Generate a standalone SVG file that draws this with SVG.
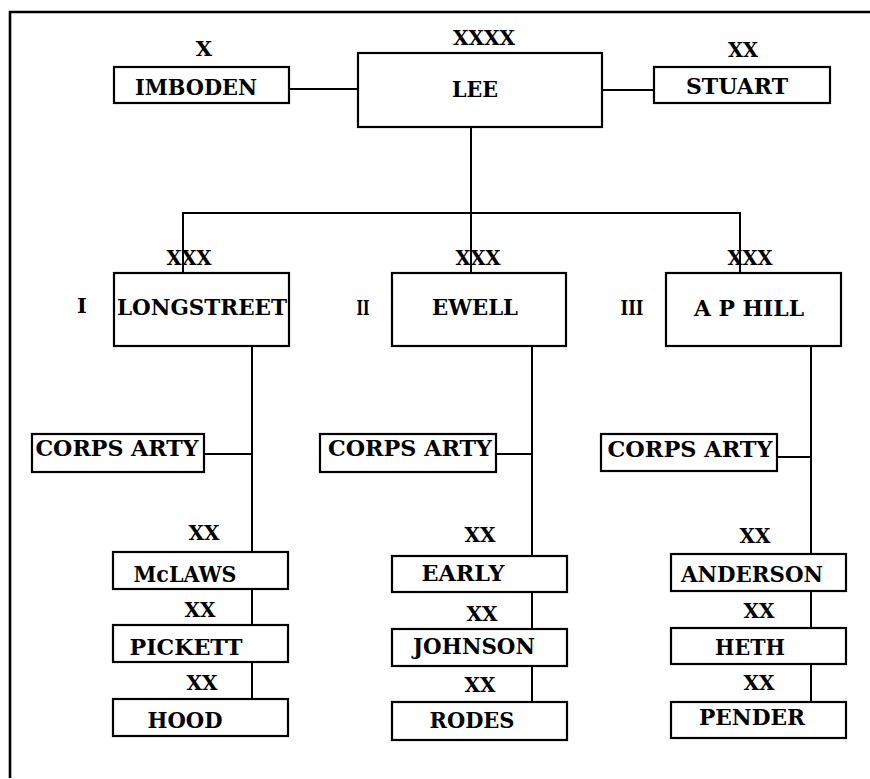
<svg xmlns="http://www.w3.org/2000/svg" width="870" height="779" viewBox="0 0 870 779">
<style>
  .box { fill: #ffffff; stroke: #000000; stroke-width: 2.2; }
  .t { font-family: "DejaVu Serif", "Liberation Serif", serif; font-weight: bold; font-size: 22px; fill: #000000; text-anchor: middle; }
  .lbl { font-family: "DejaVu Serif", "Liberation Serif", serif; font-weight: bold; font-size: 21px; fill: #000000; text-anchor: middle; }
  .ln { stroke: #000000; stroke-width: 2; fill: none; }
  .frame { stroke: #000000; stroke-width: 2.6; fill: none; }
</style>
<rect x="0" y="0" width="870" height="779" fill="#ffffff"/>
<path class="frame" d="M10,778 V12 H870"/>

<g id="nodes">
  <g id="imboden">
    <text class="lbl" x="204" y="56">X</text>
    <rect class="box" x="114" y="67" width="175" height="36"/>
    <text class="t" x="196" y="95" textLength="122" lengthAdjust="spacingAndGlyphs">IMBODEN</text>
  </g>
  <g id="lee">
    <text class="lbl" x="484" y="45" textLength="62" lengthAdjust="spacingAndGlyphs">XXXX</text>
    <rect class="box" x="358" y="53" width="244" height="74"/>
    <text class="t" x="475" y="97" textLength="46" lengthAdjust="spacingAndGlyphs">LEE</text>
  </g>
  <g id="stuart">
    <text class="lbl" x="743" y="57" textLength="30" lengthAdjust="spacingAndGlyphs">XX</text>
    <rect class="box" x="654" y="67" width="176" height="36"/>
    <text class="t" x="737" y="94" textLength="102" lengthAdjust="spacingAndGlyphs">STUART</text>
  </g>
  <g id="longstreet">
    <text class="lbl" x="189" y="265" textLength="45" lengthAdjust="spacingAndGlyphs">XXX</text>
    <text class="lbl" x="82" y="313">I</text>
    <rect class="box" x="114" y="273" width="175" height="73"/>
    <text class="t" x="202" y="315" textLength="170" lengthAdjust="spacingAndGlyphs">LONGSTREET</text>
  </g>
  <g id="ewell">
    <text class="lbl" x="478" y="265" textLength="45" lengthAdjust="spacingAndGlyphs">XXX</text>
    <text class="lbl" x="363" y="315" textLength="13" lengthAdjust="spacingAndGlyphs">II</text>
    <rect class="box" x="392" y="273" width="174" height="73"/>
    <text class="t" x="475" y="315" textLength="86" lengthAdjust="spacingAndGlyphs">EWELL</text>
  </g>
  <g id="aphill">
    <text class="lbl" x="750" y="265" textLength="45" lengthAdjust="spacingAndGlyphs">XXX</text>
    <text class="lbl" x="632" y="315" textLength="23" lengthAdjust="spacingAndGlyphs">III</text>
    <rect class="box" x="666" y="273" width="175" height="73"/>
    <text class="t" x="749" y="316" textLength="110" lengthAdjust="spacingAndGlyphs">A P HILL</text>
  </g>
  <g id="arty1">
    <rect class="box" x="32" y="434" width="172" height="38"/>
    <text class="t" x="117" y="456" textLength="163" lengthAdjust="spacingAndGlyphs">CORPS ARTY</text>
  </g>
  <g id="arty2">
    <rect class="box" x="320" y="434" width="176" height="38"/>
    <text class="t" x="410" y="456" textLength="164" lengthAdjust="spacingAndGlyphs">CORPS ARTY</text>
  </g>
  <g id="arty3">
    <rect class="box" x="601" y="434" width="176" height="37"/>
    <text class="t" x="690" y="457" textLength="165" lengthAdjust="spacingAndGlyphs">CORPS ARTY</text>
  </g>
  <g id="mclaws">
    <text class="lbl" x="204" y="540" textLength="31" lengthAdjust="spacingAndGlyphs">XX</text>
    <rect class="box" x="113" y="552" width="175" height="37"/>
    <text class="t" x="185" y="582" textLength="103" lengthAdjust="spacingAndGlyphs">McLAWS</text>
  </g>
  <g id="pickett">
    <text class="lbl" x="200" y="617" textLength="31" lengthAdjust="spacingAndGlyphs">XX</text>
    <rect class="box" x="113" y="625" width="175" height="37"/>
    <text class="t" x="186" y="655" textLength="113" lengthAdjust="spacingAndGlyphs">PICKETT</text>
  </g>
  <g id="hood">
    <text class="lbl" x="202" y="690" textLength="31" lengthAdjust="spacingAndGlyphs">XX</text>
    <rect class="box" x="113" y="699" width="175" height="37"/>
    <text class="t" x="185" y="728" textLength="75" lengthAdjust="spacingAndGlyphs">HOOD</text>
  </g>
  <g id="early">
    <text class="lbl" x="480" y="542" textLength="31" lengthAdjust="spacingAndGlyphs">XX</text>
    <rect class="box" x="392" y="556" width="175" height="36"/>
    <text class="t" x="463" y="581" textLength="83" lengthAdjust="spacingAndGlyphs">EARLY</text>
  </g>
  <g id="johnson">
    <text class="lbl" x="482" y="621" textLength="31" lengthAdjust="spacingAndGlyphs">XX</text>
    <rect class="box" x="392" y="629" width="175" height="37"/>
    <text class="t" x="474" y="654" textLength="122" lengthAdjust="spacingAndGlyphs">JOHNSON</text>
  </g>
  <g id="rodes">
    <text class="lbl" x="480" y="692" textLength="31" lengthAdjust="spacingAndGlyphs">XX</text>
    <rect class="box" x="392" y="702" width="175" height="38"/>
    <text class="t" x="472" y="728" textLength="85" lengthAdjust="spacingAndGlyphs">RODES</text>
  </g>
  <g id="anderson">
    <text class="lbl" x="755" y="543" textLength="31" lengthAdjust="spacingAndGlyphs">XX</text>
    <rect class="box" x="671" y="554" width="175" height="37"/>
    <text class="t" x="752" y="582" textLength="142" lengthAdjust="spacingAndGlyphs">ANDERSON</text>
  </g>
  <g id="heth">
    <text class="lbl" x="759" y="618" textLength="31" lengthAdjust="spacingAndGlyphs">XX</text>
    <rect class="box" x="671" y="628" width="175" height="36"/>
    <text class="t" x="750" y="655" textLength="70" lengthAdjust="spacingAndGlyphs">HETH</text>
  </g>
  <g id="pender">
    <text class="lbl" x="759" y="690" textLength="31" lengthAdjust="spacingAndGlyphs">XX</text>
    <rect class="box" x="671" y="702" width="175" height="36"/>
    <text class="t" x="752" y="725" textLength="106" lengthAdjust="spacingAndGlyphs">PENDER</text>
  </g>
</g>

<g id="connectors">
  <path class="ln" d="M289,89 H358"/>
  <path class="ln" d="M602,90 H654"/>
  <path class="ln" d="M471,127 V273"/>
  <path class="ln" d="M183,273 V213 H740 V273"/>
  <path class="ln" d="M252,346 V552 M252,589 V625 M252,662 V699"/>
  <path class="ln" d="M204,454 H252"/>
  <path class="ln" d="M532,346 V556 M532,592 V629 M532,666 V702"/>
  <path class="ln" d="M496,454 H532"/>
  <path class="ln" d="M811,346 V554 M811,591 V628 M811,664 V702"/>
  <path class="ln" d="M777,457 H811"/>
</g>
</svg>
